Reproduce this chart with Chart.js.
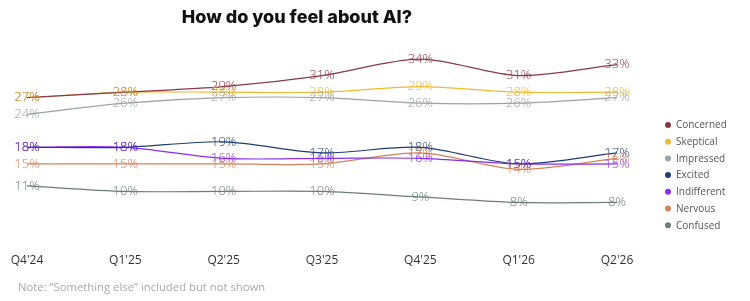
<!DOCTYPE html>
<html>
<head>
<meta charset="utf-8">
<script src="https://cdn.jsdelivr.net/npm/chart.js@4"></script>
<style>
  html, body { margin: 0; padding: 0; background: #fff; }
  #wrap { width: 750px; height: 301px; }
</style>
</head>
<body>
<div id="wrap"><canvas id="grafico_ai"></canvas></div>
<script>
/* dados */
const trimestres = ["Q4'24", "Q1'25", "Q2'25", "Q3'25", "Q4'25", "Q1'26", "Q2'26"];

const concerned   = [27, 28, 29, 31, 34, 31, 33];
const skeptical   = [27, 28, 28, 28, 29, 28, 28];
const impressed   = [24, 26, 27, 27, 26, 26, 27];
const excited     = [18, 18, 19, 17, 18, 15, 17];
const indifferent = [18, 18, 16, 16, 16, 15, 15];
const nervous     = [15, 15, 15, 15, 17, 14, 16];
const confused    = [11, 10, 10, 10, 9, 8, 8];

const nomes_series = ['Concerned', 'Skeptical', 'Impressed', 'Excited', 'Indifferent', 'Nervous', 'Confused'];
const valores_series = [concerned, skeptical, impressed, excited, indifferent, nervous, confused];
const cores_series = ['#8a3845', '#f2b830', '#98a6a1', '#1f3d73', '#8a2cf0', '#d4845a', '#6a7f75'];

const titulo = 'How do you feel about AI?';
const nota = 'Note: \u201cSomething else\u201d included but not shown';

/* rótulos de valor em cima de cada ponto */
const plugin_rotulos = {
    id: 'rotulos',
    afterDatasetsDraw(chart) {
        const ctx = chart.ctx;
        ctx.save();
        ctx.font = '300 13px "Open Sans"';
        ctx.textAlign = 'center';
        ctx.textBaseline = 'middle';
        chart.data.datasets.forEach(function (ds, i) {
            const meta = chart.getDatasetMeta(i);
            ctx.fillStyle = ds.borderColor;
            meta.data.forEach(function (pt, j) {
                ctx.fillText(ds.data[j] + '%', pt.x, pt.y);
            });
        });
        ctx.restore();
    }
};

/* título, legenda e nota */
const plugin_textos = {
    id: 'textos',
    afterDraw(chart) {
        const ctx = chart.ctx;
        ctx.save();
        ctx.fillStyle = '#111';
        ctx.font = '800 18px Inter';
        ctx.textAlign = 'center';
        ctx.textBaseline = 'middle';
        ctx.fillText(titulo, 297, 18);

        ctx.textAlign = 'left';
        ctx.font = '10px "Open Sans"';
        chart.data.datasets.forEach(function (ds, i) {
            const y = 125 + i * 16.7;
            ctx.fillStyle = ds.borderColor;
            ctx.beginPath();
            ctx.arc(668, y, 3, 0, Math.PI * 2);
            ctx.fill();
            ctx.fillStyle = '#555';
            ctx.fillText(ds.label, 676, y + 0.5);
        });

        ctx.fillStyle = '#aaa';
        ctx.font = '11.3px "Open Sans"';
        ctx.fillText(nota, 18, 288);
        ctx.restore();
    }
};

const data_grafico_ai = {
    labels: trimestres,
    datasets: nomes_series.map(function (nome, i) {
        return {
            label: nome,
            data: valores_series[i],
            borderColor: cores_series[i],
            backgroundColor: cores_series[i],
            borderWidth: 1.2,
            pointRadius: 0,
            tension: 0.3
        };
    })
};

const config_grafico_ai = {
    type: 'line',
    data: data_grafico_ai,
    options: {
        responsive: true,
        maintainAspectRatio: false,
        animation: false,
        layout: { padding: { top: 37, left: 27, right: 133, bottom: 26 } },
        plugins: {
            legend: { display: false },
            title: { display: false },
            tooltip: { enabled: false }
        },
        scales: {
            x: {
                grid: { display: false, drawTicks: false },
                border: { display: false },
                ticks: {
                    padding: 7,
                    color: '#333',
                    font: { family: '"Open Sans"', size: 12 },
                    maxRotation: 0
                }
            },
            y: {
                display: false,
                min: 0,
                max: 38
            }
        }
    },
    plugins: [plugin_rotulos, plugin_textos]
};

const grafico_ai = new Chart(
    document.getElementById('grafico_ai'),
    config_grafico_ai
);
</script>
</body>
</html>
